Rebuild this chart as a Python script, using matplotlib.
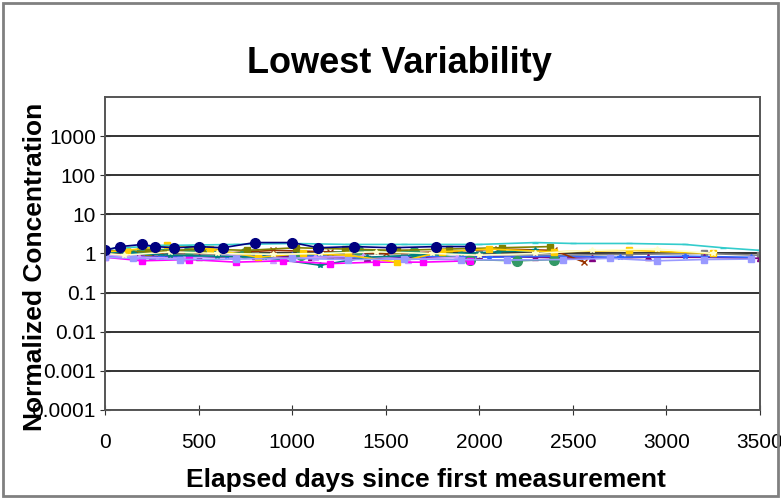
import matplotlib
matplotlib.use("Agg")
import matplotlib.pyplot as plt
from matplotlib.patches import Rectangle

plt.rcParams['font.family'] = ['Liberation Sans', 'DejaVu Sans']

# tick labels
y_ticks = [1e-4, 1e-3, 1e-2, 1e-1, 1, 10, 100, 1000]
y_tick_labels = ['0.0001', '0.001', '0.01', '0.1', '1', '10', '100', '1000']
x_ticks = [0, 500, 1000, 1500, 2000, 2500, 3000, 3500]

# series (elapsed days, normalized concentration)
navy_x = [0, 80, 200, 270, 370, 500, 630, 800, 1000, 1140, 1330, 1530, 1770, 1950]
navy_y = [1.2, 1.5, 1.7, 1.5, 1.4, 1.5, 1.4, 1.9, 1.9, 1.4, 1.5, 1.4, 1.5, 1.5]

cyan_x = [0, 300, 700, 1000, 1300, 1600, 2000, 2300, 2500, 2800, 3100, 3300, 3500]
cyan_y = [1.3, 1.6, 1.7, 1.8, 1.7, 1.7, 1.7, 1.9, 1.8, 1.8, 1.7, 1.4, 1.2]

lav_x = [0, 150, 400, 700, 1000, 1300, 1600, 1900, 2150, 2450, 2700, 2950, 3200, 3450]
lav_y = [0.8, 0.75, 0.7, 0.72, 0.75, 0.7, 0.72, 0.7, 0.68, 0.7, 0.75, 0.65, 0.7, 0.72]

mag_x = [0, 200, 450, 700, 950, 1200, 1450, 1700, 1950]
mag_y = [0.8, 0.65, 0.7, 0.6, 0.65, 0.55, 0.6, 0.6, 0.65]

teal_x = [0, 150, 350, 600, 850, 1150, 1400, 1650, 1900, 2100, 2300]
teal_y = [1.1, 1.0, 0.9, 0.85, 0.8, 0.5, 0.8, 0.9, 1.0, 1.1, 1.2]

yel_x = [0, 120, 330, 560, 820, 1060, 1300, 1560, 1800, 2050, 2400, 2800, 3250]
yel_y = [1.1, 1.2, 1.6, 1.3, 0.8, 1.0, 0.9, 0.6, 1.1, 1.3, 1.1, 1.2, 1.0]

purp_x = [0, 250, 500, 800, 1100, 1400, 1700, 2000, 2300, 2600, 2900, 3200, 3500]
purp_y = [0.9, 0.85, 0.8, 0.85, 0.8, 0.75, 0.8, 0.85, 0.8, 0.75, 0.8, 0.8, 0.75]

maroon_x = [0, 300, 600, 900, 1200, 1500, 1800, 2100, 2400, 2560]
maroon_y = [1.0, 1.1, 1.0, 1.2, 1.1, 1.0, 1.1, 1.3, 1.2, 0.6]

green_x = [0, 200, 450, 750, 1050, 1350, 1650, 1950, 2200, 2400]
green_y = [1.0, 1.3, 1.2, 1.0, 0.9, 1.2, 1.1, 0.7, 0.65, 0.7]

gray_x = [0, 400, 800, 1200, 1600, 2000, 2400, 2800, 3200, 3500]
gray_y = [1.0, 0.95, 1.0, 0.9, 1.0, 0.95, 0.9, 0.95, 1.0, 0.9]

cream_x = [0, 100, 350, 600, 900, 1150, 1450, 1750, 2000, 2300, 2600, 2950, 3250]
cream_y = [1.0, 0.9, 1.1, 1.0, 0.95, 1.0, 1.1, 1.0, 0.9, 1.0, 1.2, 1.3, 1.0]

blue_x = [0, 300, 650, 1000, 1350, 1700, 2050, 2400, 2750, 3100, 3450]
blue_y = [0.85, 0.8, 0.85, 0.9, 0.8, 0.85, 0.8, 0.85, 0.8, 0.85, 0.8]

pink_x = [0, 180, 420, 680, 900, 1120, 1380, 1620, 1880]
pink_y = [0.9, 0.8, 0.75, 0.9, 0.7, 0.8, 0.85, 0.7, 0.8]

olive_x = [0, 230, 520, 760, 1020, 1280, 1560, 1840, 2120, 2380]
olive_y = [1.2, 1.1, 1.3, 1.2, 1.4, 1.3, 1.2, 1.3, 1.4, 1.5]

series = [
    (gray_x, gray_y, '#808080', 's'),
    (purp_x, purp_y, '#800080', '^'),
    (blue_x, blue_y, '#3366FF', '*'),
    (maroon_x, maroon_y, '#993300', 'x'),
    (green_x, green_y, '#339966', 'o'),
    (olive_x, olive_y, '#808000', 's'),
    (pink_x, pink_y, '#CC99FF', '^'),
    (teal_x, teal_y, '#008080', '*'),
    (mag_x, mag_y, '#FF00FF', 's'),
    (yel_x, yel_y, '#FFCC00', 's'),
    (lav_x, lav_y, '#9999FF', 's'),
    (cyan_x, cyan_y, '#33CCCC', '_'),
    (cream_x, cream_y, '#FFFFCC', '*'),
    (navy_x, navy_y, '#000080', 'o'),
]

fig = plt.figure(figsize=(7.81, 4.99), dpi=100)
fig.patches.append(Rectangle((0.004, 0.006), 0.992, 0.988, transform=fig.transFigure,
                             fill=False, edgecolor='#808080', linewidth=2))
ax = fig.add_axes([0.1344, 0.1784, 0.8387, 0.6273])

for sx, sy, c, m in series:
    ms = 7 if m == 'o' else 4
    ax.plot(sx, sy, color=c, marker=m, markersize=ms, linewidth=1.2)

ax.set_yscale('log')
ax.set_ylim(1e-4, 1e4)
ax.set_xlim(0, 3500)
ax.set_yticks(y_ticks)
ax.set_yticklabels(y_tick_labels)
ax.minorticks_off()
ax.set_xticks(x_ticks)
ax.grid(axis='y', color='#333333', linewidth=1.4)
ax.tick_params(axis='both', labelsize=15, direction='inout', length=7, color='#333333')
ax.tick_params(axis='x', pad=13)
ax.tick_params(axis='y', pad=3)
for sp in ax.spines.values():
    sp.set_color('#555555')
    sp.set_linewidth(1.4)

fig.text(0.512, 0.854, 'Lowest Variability', ha='center', va='baseline',
         fontsize=26, fontweight='bold')
fig.text(0.545, 0.024, 'Elapsed days since first measurement', ha='center', va='baseline',
         fontsize=19, fontweight='bold')
fig.text(0.045, 0.465, 'Normalized Concentration', ha='center', va='center',
         rotation=90, fontsize=19, fontweight='bold')

fig.savefig('out.png', dpi=100)
